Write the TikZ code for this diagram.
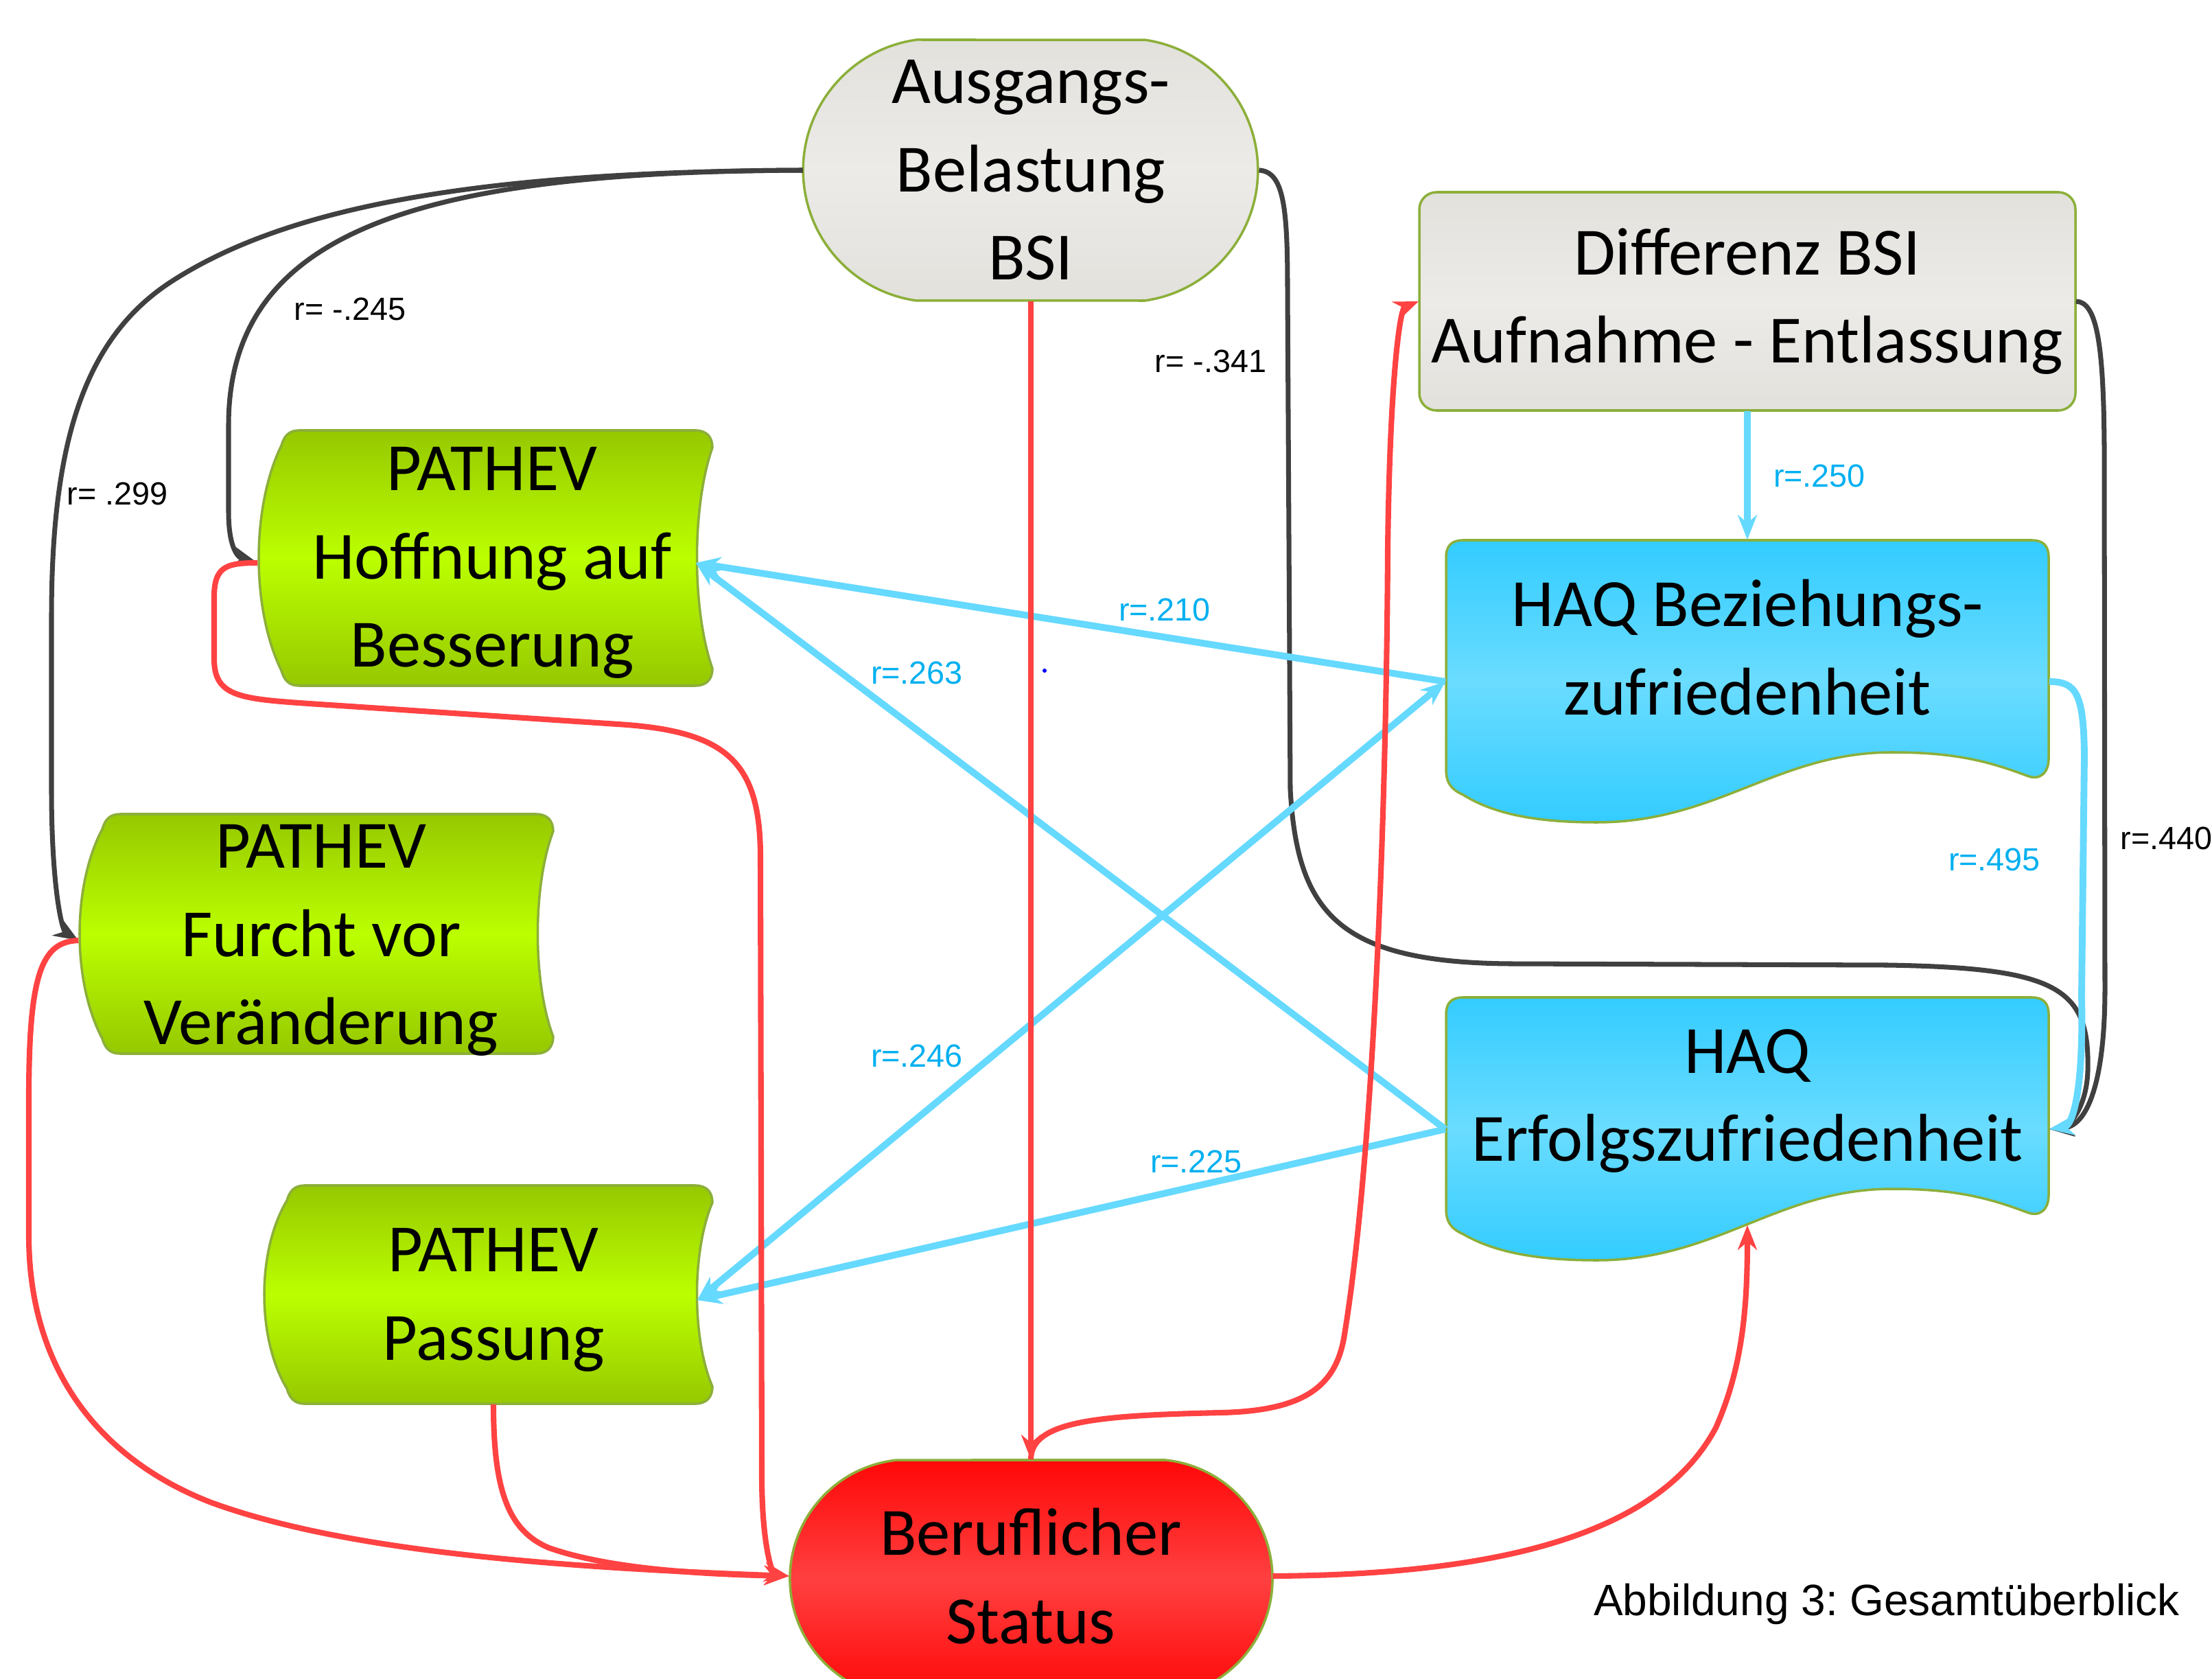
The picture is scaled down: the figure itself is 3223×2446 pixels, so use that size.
\documentclass[tikz,border=0pt]{standalone}
\usepackage{fontspec}
\setmainfont{Carlito}
\newfontfamily\corrfont{Liberation Sans}
\usetikzlibrary{arrows.meta,calc}
\frenchspacing

\definecolor{bordergreen}{HTML}{8CAF3A}
\definecolor{grayA}{HTML}{E2E1DC}
\definecolor{grayB}{HTML}{ECEBE8}
\definecolor{greenA}{HTML}{96C800}
\definecolor{greenB}{HTML}{BBFF00}
\definecolor{blueA}{HTML}{33CCFF}
\definecolor{blueB}{HTML}{6ADCFF}
\definecolor{redA}{HTML}{FF0808}
\definecolor{redB}{HTML}{FF4040}
\definecolor{lineblack}{HTML}{404040}
\definecolor{linered}{HTML}{FF4242}
\definecolor{lineblue}{HTML}{66D9FF}
\definecolor{labelblue}{HTML}{00B0F0}

% stadium: style, left, top, right, bottom, end depth
\newcommand\stadiumshape[6]{%
  \pgfmathsetmacro\stH{(#5-#3)/200}%
  \pgfmathsetmacro\stD{#6/100}%
  \pgfmathsetmacro\stR{(\stD*\stD+\stH*\stH)/(2*\stD)}%
  \pgfmathsetmacro\stA{asin(\stH/\stR)}%
  \pgfmathsetmacro\stRR{100*\stR}%
  \path[#1] ({#2+#6},#3) arc[start angle={180+\stA}, end angle={180-\stA}, radius=\stRR]
    -- ({#4-#6},#5) arc[start angle=\stA, end angle=-\stA, radius=\stRR] -- cycle;}

% stored data: left, top, right, bottom
\newcommand\storedshape[4]{%
  \pgfmathsetmacro\sdH{#4-#2}%
  \path[greenbox] ({#1+60},#2) -- ({#3-25},#2)
    .. controls ({#3-8},#2) and (#3,{#2+10}) .. (#3,{#2+25})
    .. controls ({#3-30},{#2+0.3*\sdH}) and ({#3-30},{#4-0.3*\sdH}) .. (#3,{#4-25})
    .. controls (#3,{#4-10}) and ({#3-8},#4) .. ({#3-25},#4)
    -- ({#1+60},#4)
    .. controls ({#1+45},#4) and ({#1+38},{#4-8}) .. ({#1+34},{#4-22})
    .. controls ({#1-10},{#4-0.3*\sdH}) and ({#1-10},{#2+0.3*\sdH}) .. ({#1+34},{#2+22})
    .. controls ({#1+38},{#2+8}) and ({#1+45},#2) .. ({#1+60},#2) -- cycle;}

% document: left, top, right, left end, trough, crest, right end
\newcommand\docshape[7]{%
  \path[bluebox] ({#1+25},#2) -- ({#3-25},#2)
    .. controls ({#3-8},#2) and (#3,{#2+8}) .. (#3,{#2+25})
    -- (#3,{#7-25})
    .. controls (#3,{#7-5}) and ({#3-12},{#7+8}) .. ({#3-32},#7)
    .. controls ({#3-90},{#7-22}) and ({#3-140},#6) .. ({#1+0.74*(#3-#1)},#6)
    .. controls ({#1+0.55*(#3-#1)},#6) and ({#1+0.45*(#3-#1)},#5) .. ({#1+0.25*(#3-#1)},#5)
    .. controls ({#1+0.15*(#3-#1)},#5) and ({#1+70},{#5-12}) .. ({#1+25},{#4+8})
    .. controls ({#1+8},#4) and (#1,{#4-8}) .. (#1,{#4-30})
    -- (#1,{#2+25}) .. controls (#1,{#2+8}) and ({#1+8},#2) .. ({#1+25},#2) -- cycle;}

\begin{document}
\begin{tikzpicture}[x=0.01cm, y=-0.01cm, >={Stealth[length=0.36cm, width=0.28cm]},
  boxtext/.style={align=center, inner sep=0pt, font=\fontsize{28}{36.5}\selectfont},
  corr/.style={font=\corrfont\fontsize{13.3}{16}\selectfont, inner sep=0pt},
  corrblue/.style={corr, text=labelblue},
  graybox/.style={top color=grayA, bottom color=grayA, middle color=grayB, draw=bordergreen, line width=1pt},
  greenbox/.style={top color=greenA, bottom color=greenA, middle color=greenB, draw=bordergreen, line width=1pt},
  bluebox/.style={top color=blueA, bottom color=blueA, middle color=blueB, draw=bordergreen, line width=1pt},
  redbox/.style={top color=redA, bottom color=redA, middle color=redB, draw=bordergreen, line width=1pt},
  blackline/.style={draw=lineblack, line width=2pt, ->},
  redline/.style={draw=linered, line width=2.3pt, ->},
  blueline/.style={draw=lineblue, line width=2.8pt, ->}]
  \useasboundingbox (0,0) rectangle (3223,2446);
  \fill[white] (0,0) rectangle (3223,2446);
  \clip (0,0) rectangle (3223,2446);

  % shapes
  \stadiumshape{graybox}{1170}{58}{1833}{438}{165}
  \path[graybox, rounded corners=0.25cm] (2068,280) rectangle (3024,598);
  \storedshape{376}{627}{1038}{999}
  \storedshape{115}{1186}{806}{1535}
  \storedshape{384}{1727}{1038}{2045}
  \docshape{2107}{787}{2985}{1150}{1198}{1096}{1130}
  \docshape{2107}{1453}{2985}{1790}{1836}{1732}{1766}
  \stadiumshape{redbox}{1151}{2127}{1854}{2473}{156}

  % nodes
  \node[boxtext, minimum width=6.63cm, minimum height=3.80cm] (start) at (1502,248) {Ausgangs-\\Belastung\\BSI};
  \node[boxtext, minimum width=9.56cm, minimum height=3.18cm] (diff) at (2546,439) {Differenz BSI\\Aufnahme - Entlassung};
  \node[boxtext, minimum width=6.82cm, minimum height=3.72cm] (hope) at (717,820) {PATHEV\\Hoffnung auf\\Besserung};
  \node[boxtext, minimum width=7.06cm, minimum height=3.49cm] (fear) at (468,1370) {PATHEV\\Furcht vor\\Veränderung};
  \node[boxtext, minimum width=5.92cm, minimum height=3.02cm] (fit) at (719,1894) {PATHEV\\Passung};
  \node[boxtext, minimum width=8.78cm, minimum height=3.12cm] (bond) at (2546,943) {HAQ Beziehungs-\\zufriedenheit};
  \node[boxtext, minimum width=8.78cm, minimum height=3.02cm] (success) at (2546,1604) {HAQ\\Erfolgszufriedenheit};
  \node[boxtext, minimum width=7.03cm, minimum height=3.38cm] (status) at (1502,2296) {Beruflicher\\Status};

  % black connectors
  \draw[blackline] (start.west) .. controls (600,250) and (333,340) .. (333,620) -- (333,745)
    .. controls (333,795) and (345,812) .. (hope.west);
  \draw[blackline] (start.west) .. controls (700,250) and (420,300) .. (250,410)
    .. controls (120,494) and (75,650) .. (75,900) -- (75,1150)
    .. controls (75,1290) and (90,1355) .. (fear.west);
  \draw[blackline] (start.east) .. controls (1870,250) and (1876,300) .. (1876,420) -- (1880,1150)
    .. controls (1890,1330) and (1950,1402) .. (2200,1404) -- (2750,1406)
    .. controls (3000,1410) and (3045,1440) .. (3042,1560)
    .. controls (3040,1620) and (3010,1642) .. ([yshift=-0.41cm]success.east);
  \draw[blackline] (diff.east) .. controls (3055,440) and (3065,500) .. (3066,650) -- (3067,1440)
    .. controls (3067,1580) and (3040,1640) .. ([yshift=-0.41cm]success.east);

  % blue connectors
  \draw[blueline] (diff.south) -- (bond.north);
  \draw[blueline] ([yshift=-0.5cm]bond.west) -- ([xshift=-0.45cm]hope.east);
  \draw[blueline] ([yshift=-0.41cm]success.west) -- ([xshift=-0.45cm]hope.east);
  \draw[blueline, <->] (fit.east) -- ([yshift=-0.5cm]bond.west);
  \draw[blueline] ([yshift=-0.41cm]success.west) -- (fit.east);
  \draw[blueline] ([yshift=-0.5cm]bond.east) .. controls (3025,993) and (3036,1010) .. (3037,1100) -- (3033,1450)
    .. controls (3036,1590) and (3020,1640) .. ([yshift=-0.41cm]success.east);

  % red connectors
  \draw[redline] (start.south) -- (status.north);
  \draw[redline] (status.north) .. controls (1502,2070) and (1600,2062) .. (1780,2058)
    .. controls (1900,2055) and (1945,2020) .. (1958,1950)
    .. controls (2000,1700) and (2020,1200) .. (2022,800)
    .. controls (2025,550) and (2040,450) .. (diff.west);
  \draw[redline] (hope.west) .. controls (330,820) and (312,825) .. (312,870) -- (312,960)
    .. controls (312,1015) and (350,1018) .. (450,1025) -- (900,1055)
    .. controls (1060,1065) and (1108,1110) .. (1108,1250) -- (1110,2150)
    .. controls (1110,2250) and (1125,2292) .. (status.west);
  \draw[redline] (fear.west) .. controls (60,1372) and (42,1420) .. (42,1600) -- (42,1800)
    .. controls (42,2000) and (150,2128) .. (308,2189)
    .. controls (500,2259) and (800,2283) .. (status.west);
  \draw[redline] (fit.south) .. controls (719,2170) and (740,2230) .. (800,2255)
    .. controls (880,2283) and (1000,2293) .. (status.west);
  \draw[redline] (status.east) .. controls (2200,2294) and (2420,2230) .. (2500,2080)
    .. controls (2540,1990) and (2546,1900) .. ([yshift=-0.29cm]success.south);

  % correlations
  \node[corr] (l245) at (510,450) {r= -.245};
  \node[corr] (l299) at (171,719) {r= .299};
  \node[corr] (l341) at (1764,526) {r= -.341};
  \node[corr, anchor=west] (l440) at (3089,1221) {r=.440};
  \node[corrblue] (l250) at (2651,693) {r=.250};
  \node[corrblue] (l210) at (1697,888) {r=.210};
  \node[corrblue] (l263) at (1336,980) {r=.263};
  \node[corrblue] (l495) at (2906,1252) {r=.495};
  \node[corrblue] (l246) at (1336,1538) {r=.246};
  \node[corrblue] (l225) at (1743,1692) {r=.225};
  \fill[blue] (1522,977) circle[radius=3];

  \node[font=\corrfont\fontsize{18.2}{22}\selectfont, inner sep=0pt] (caption) at (2749,2337) {Abbildung 3: Gesamtüberblick};
\end{tikzpicture}
\end{document}
